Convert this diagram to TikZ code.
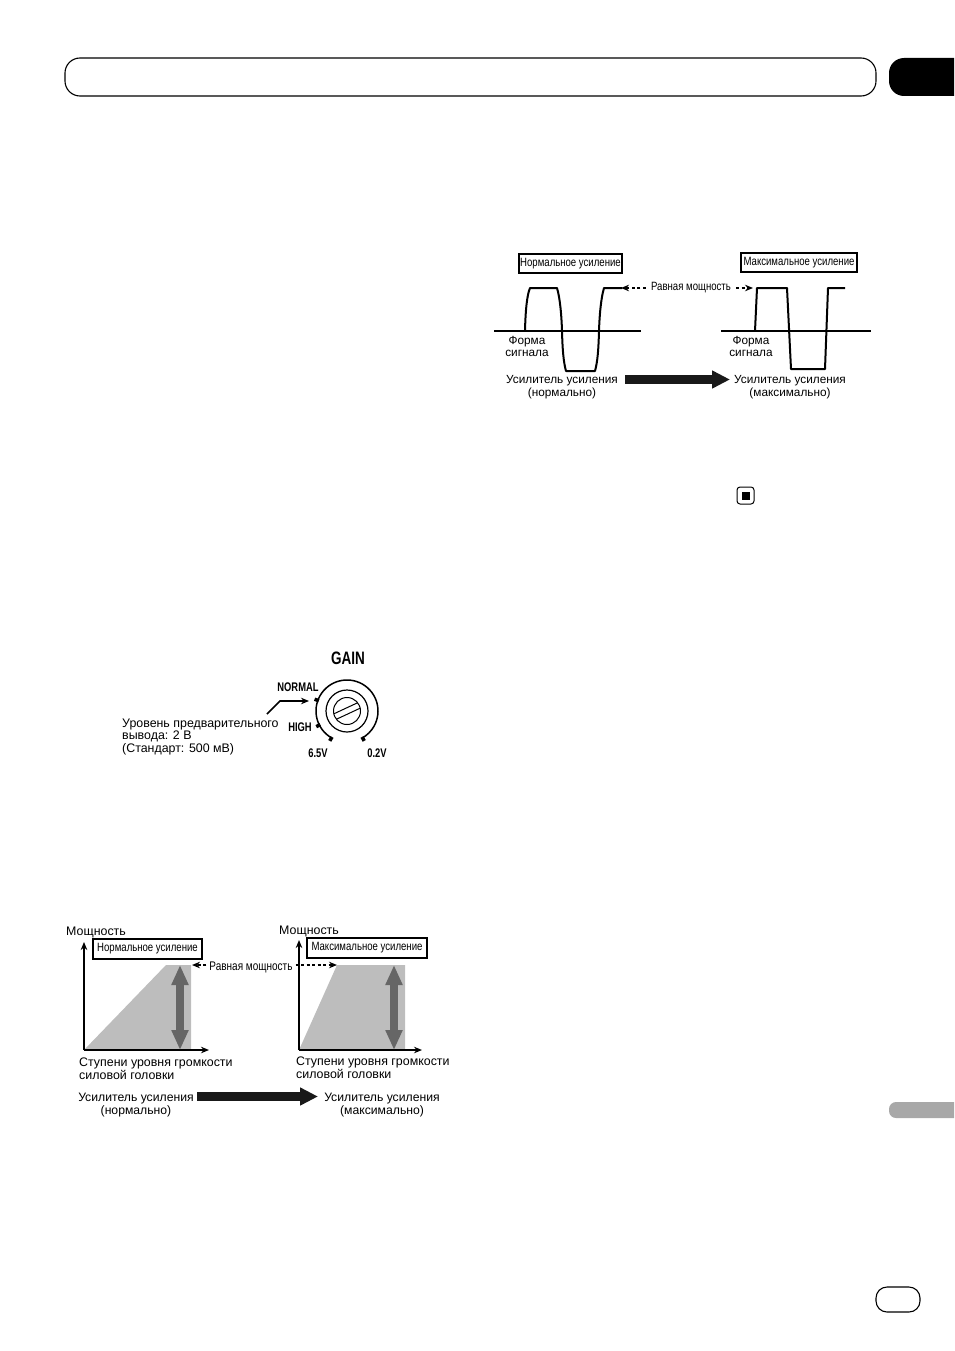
\documentclass[tikz,border=0pt]{standalone}
\usepackage{fontspec}
\setmainfont{Liberation Sans}
\newfontfamily\narrowfont[FakeStretch=0.8]{Liberation Sans}
\newfontfamily\condfont[FakeStretch=0.75]{Liberation Sans}
\usetikzlibrary{arrows.meta,positioning}
\definecolor{areagray}{HTML}{BDBDBD}
\definecolor{stepgray}{HTML}{666666}
\definecolor{tabgray}{HTML}{A8A8A8}
\tikzset{
    %Define standard arrow tip
    >={Stealth[length=8pt,width=6.5pt]},
    %Define style for texts
    labeltext/.style={
             align=center,
             inner sep=0pt,
             font=\fontsize{11.8}{12.8}\selectfont},
    leftlabel/.style={
             labeltext,
             align=left,
             anchor=west,
             font=\fontsize{12.4}{12.8}\selectfont},
    gainbox/.style={
             draw=black, line width=1.2pt,
             inner sep=0pt,
             font=\narrowfont\fontsize{12}{13}\selectfont},
    equaltext/.style={
             inner sep=0pt,
             font=\narrowfont\fontsize{12}{13}\selectfont},
    knobtext/.style={
             inner sep=0pt,
             font=\condfont\bfseries\fontsize{12.5}{13}\selectfont},
    % Define arrow style
    waveline/.style={
            line width=2pt,
            line join=round},
    axisline/.style={
            ->,
            line width=2pt},
    equalarrow/.style={
            ->,
            line width=1.4pt,
            dash pattern=on 3pt off 2.5pt},
    changearrow/.style={
            -{Triangle[length=18pt,width=17pt]},
            line width=9.5pt,
            draw=black!90},
    steparrow/.style={
            {Triangle[length=20pt,width=16pt]}-{Triangle[length=20pt,width=16pt]},
            line width=8pt,
            draw=stepgray},
    knobtick/.style={
            line width=3.5pt}
}
\begin{document}
\begin{tikzpicture}[x=1pt,y=-1pt]
 \useasboundingbox (0,0) rectangle (954,1351);
 % page furniture
 \draw[line width=1.1pt, rounded corners=15pt] (65,58) rectangle (876,96);
 \fill[black, rounded corners=15pt] (954,58) -- (889,58) -- (889,96) -- (954,96);
 \fill[tabgray, rounded corners=7pt] (954,1102) -- (889,1102) -- (889,1118) -- (954,1118);
 \draw[line width=1.1pt, rounded corners=11pt] (876,1287) rectangle (920,1312);
 \draw[line width=1pt, rounded corners=3pt] (737,487) rectangle (754,504);
 \fill[black] (742,492) rectangle (750,500);

 % upper diagram: signal shapes
 \node[gainbox, minimum width=103pt, minimum height=19pt] (normbox) at (570.5,263.5) {Нормальное усиление};
 \node[gainbox, minimum width=116pt, minimum height=19pt] (maxbox) at (799,262.5) {Максимальное усиление};
 \coordinate (axisa) at (494,331);
 \coordinate (axisb) at (641,331);
 \coordinate (axisc) at (721,331);
 \coordinate (axisd) at (871,331);
 \path (axisa) edge[waveline] (axisb)
       (axisc) edge[waveline] (axisd);
 \draw[waveline] (525,331) .. controls (525.5,310) and (527,295) .. (530,288) -- (557,288)
       .. controls (560,298) and (561.5,315) .. (562,331) .. controls (562.5,350) and (563.5,362) .. (566,371)
       -- (595,371) .. controls (597.5,362) and (598.5,350) .. (599,331)
       .. controls (599.5,315) and (601,298) .. (604,288) -- (622,288);
 \draw[waveline] (755,331) -- (757,288) -- (787,288) -- (791,369) -- (825,369) -- (828,288) -- (845,288);
 \node[equaltext] (equalup) at (691,288) {Равная мощность};
 \coordinate (peaka) at (621,288);
 \coordinate (peakb) at (753,288);
 \draw[equalarrow] (equalup.west) ++(-5,0) -- (peaka);
 \draw[equalarrow] (equalup.east) ++(5,0) -- (peakb);
 \node[labeltext] (formaa) at (527,346.5) {Форма\\сигнала};
 \node[labeltext] (formab) at (751,346.5) {Форма\\сигнала};
 \node[labeltext] (normup) at (562,387) {Усилитель усиления\\(нормально)};
 \node[labeltext] (maxup) at (790,387) {Усилитель усиления\\(максимально)};
 \coordinate (changea) at (625,379.5);
 \coordinate (changeb) at (730,379.5);
 \draw[changearrow] (changea) -- (changeb);

 % gain switch
 \node[knobtext, font=\condfont\bfseries\fontsize{18}{20}\selectfont] (gain) at (348,658) {GAIN};
 \node[knobtext] (normal) at (298,687) {NORMAL};
 \node[knobtext] (high) at (300,727) {HIGH};
 \node[knobtext] (lowv) at (318,753) {6.5V};
 \node[knobtext] (highv) at (377,753) {0.2V};
 \coordinate (knob) at (347,711);
 \draw[line width=1.5pt] (knob) ++(120:31) arc[start angle=120, end angle=420, radius=31];
 \draw[line width=1.2pt] (knob) circle[radius=21];
 \draw[line width=1pt] (knob) circle[radius=13.5];
 \draw[line width=1pt, shift={(knob)}, rotate=25] (-13,-3) -- (13,-3) (-13,3) -- (13,3);
 \foreach \tickangle in {60,120,153,200}
   \draw[knobtick] (knob) ++(\tickangle:30) -- ++(\tickangle:4.5);
 \coordinate (bendstart) at (267,714);
 \coordinate (bendknee) at (280,701);
 \coordinate (bendend) at (309,701);
 \draw[->, line width=1.6pt] (bendstart) -- (bendknee) -- (bendend);
 \node[leftlabel] (preout) at (122,737) {Уровень предварительного\\вывода: 2 В\\(Стандарт: 500 мВ)};

 % lower diagram: power and volume steps
 \fill[areagray] (84,1050) -- (166,965) -- (191,965) -- (191,1050) -- cycle;
 \fill[areagray] (299,1050) -- (337,965) -- (405,965) -- (405,1050) -- cycle;
 \coordinate (origina) at (84,1050);
 \coordinate (topa) at (84,942);
 \coordinate (enda) at (209,1050);
 \coordinate (originb) at (299,1050);
 \coordinate (topb) at (299,940);
 \coordinate (endb) at (422,1050);
 \path (origina) edge[axisline] (topa)
       (origina) edge[axisline] (enda)
       (originb) edge[axisline] (topb)
       (originb) edge[axisline] (endb);
 \coordinate (stepa) at (180,965);
 \coordinate (stepb) at (180,1050);
 \coordinate (stepc) at (394,965);
 \coordinate (stepd) at (394,1050);
 \path (stepa) edge[steparrow] (stepb)
       (stepc) edge[steparrow] (stepd);
 \node[leftlabel] (powera) at (66,932.5) {Мощность};
 \node[leftlabel] (powerb) at (279,931.5) {Мощность};
 \node[gainbox, minimum width=109pt, minimum height=20pt] (normlow) at (147.5,949) {Нормальное усиление};
 \node[gainbox, minimum width=120pt, minimum height=20pt] (maxlow) at (367,948) {Максимальное усиление};
 \node[equaltext, font=\narrowfont\fontsize{12.5}{13}\selectfont] (equallow) at (251,967.5) {Равная мощность};
 \coordinate (levela) at (192,965);
 \coordinate (levelb) at (337,965);
 \draw[equalarrow] (equallow.west) ++(-3,-2.5) -- (levela);
 \draw[equalarrow, line width=1.8pt] (equallow.east) ++(3,-2.5) -- (levelb);
 \node[leftlabel] (stepsa) at (79,1069) {Ступени уровня громкости\\силовой головки};
 \node[leftlabel] (stepsb) at (296,1068) {Ступени уровня громкости\\силовой головки};
 \node[labeltext, font=\fontsize{12.2}{12.8}\selectfont] (normlowamp) at (136,1105) {Усилитель усиления\\(нормально)};
 \node[labeltext, font=\fontsize{12.2}{12.8}\selectfont] (maxlowamp) at (382,1105) {Усилитель усиления\\(максимально)};
 \coordinate (lowchangea) at (197,1096.5);
 \coordinate (lowchangeb) at (318,1096.5);
 \draw[changearrow] (lowchangea) -- (lowchangeb);
\end{tikzpicture}
\end{document}
